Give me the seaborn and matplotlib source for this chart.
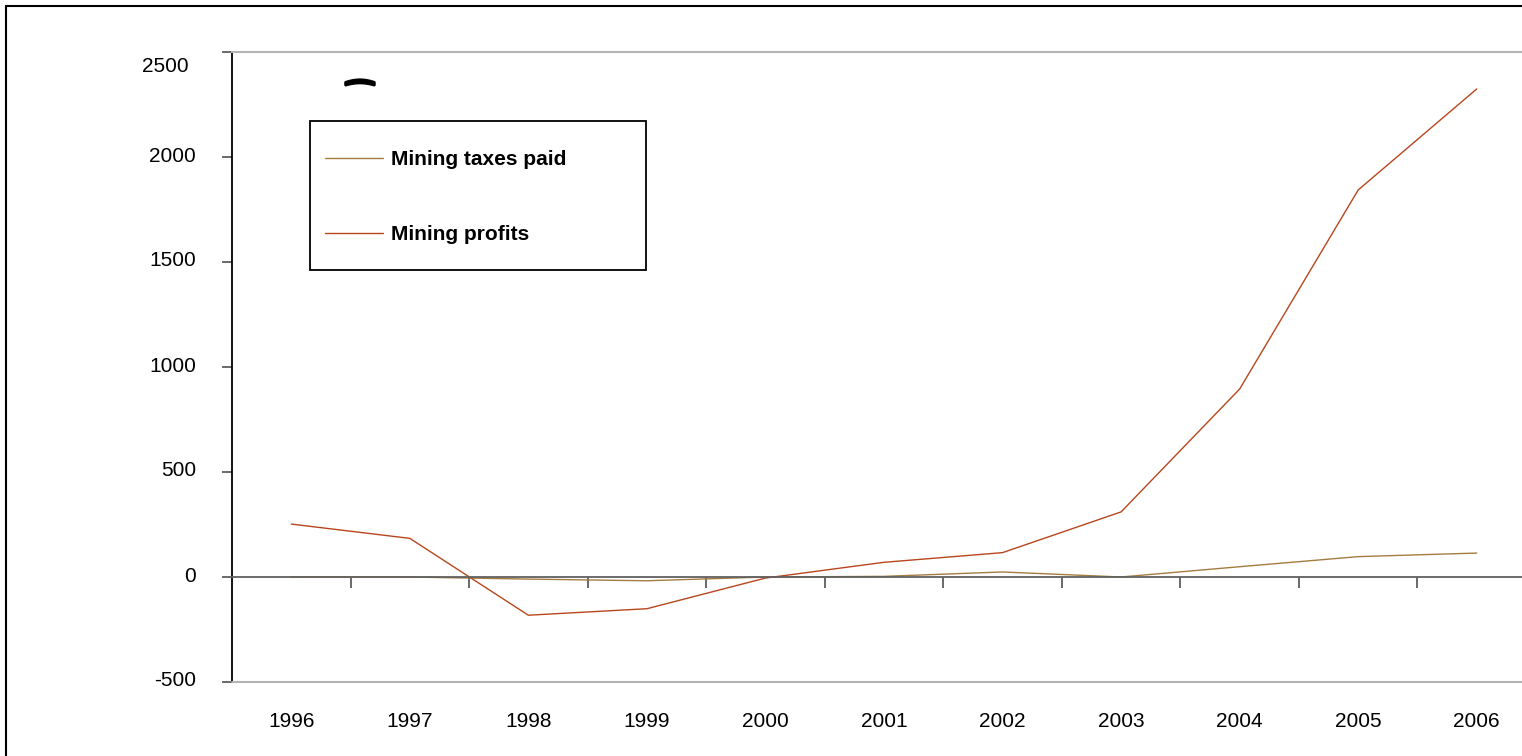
import pandas as pd
import matplotlib
matplotlib.use("Agg")
import matplotlib.pyplot as plt
import matplotlib.transforms as mtransforms
import matplotlib.patheffects as pe
from matplotlib.patches import Rectangle
from matplotlib.lines import Line2D
import seaborn as sns

# data
years = [1996, 1997, 1998, 1999, 2000, 2001, 2002, 2003, 2004, 2005, 2006]
mining_taxes = [0, 0, -10, -18, 0, 3, 24, 0, 49, 97, 114]
mining_profits = [252, 184, -182, -151, -5, 70, 116, 310, 895, 1843, 2324]
series_names = ["Mining taxes paid", "Mining profits"]
y_ticks = [-500, 0, 500, 1000, 1500, 2000, 2500]

df = pd.DataFrame({
    "year": years * 2,
    "value": mining_taxes + mining_profits,
    "series": [series_names[0]] * len(years) + [series_names[1]] * len(years),
})

sns.set_style("white")
plt.rcParams["font.family"] = ["Liberation Sans", "DejaVu Sans"]
plt.rcParams["axes.unicode_minus"] = False
plt.rcParams["text.color"] = "black"

W, H = 1522, 756
fig = plt.figure(figsize=(W / 100, H / 100), dpi=100)
ax = fig.add_axes([232 / W, 1 - 682 / H, (1536 - 232) / W, (682 - 52) / H])

palette = {"Mining taxes paid": "#a47c40", "Mining profits": "#b8461c"}
sns.lineplot(data=df, x="year", y="value", hue="series", hue_order=series_names,
             palette=palette, linewidth=1.0, ax=ax)

ax.set_xlim(1995.5, 2006.5)
ax.set_ylim(-500, 2500)
ax.set_xlabel("")
ax.set_ylabel("")

# x axis: spine sits at zero, ticks between categories, labels pushed to the bottom
ax.spines["bottom"].set_position(("data", 0))
ax.spines["bottom"].set_color("#606060")
ax.spines["bottom"].set_linewidth(1.3)
ax.set_xticks(years)
ax.set_xticklabels([str(y) for y in years], fontsize=15)
ax.set_xticks([y + 0.5 for y in years[:-1]], minor=True)
ax.tick_params(axis="x", which="major", length=0, pad=97.5, labelcolor="black")
ax.tick_params(axis="x", which="minor", direction="out", length=8, width=1.2,
               color="#505050", bottom=True)

# y axis
ax.set_yticks(y_ticks)
ax.set_yticklabels([str(v) for v in y_ticks], fontsize=15)
ax.tick_params(axis="y", direction="out", length=7, width=1.2, color="#505050",
               pad=19, left=True, labelcolor="black")
ax.spines["left"].set_color("black")
ax.spines["left"].set_linewidth(1.3)
ax.spines["top"].set_color("#b4b4b4")
ax.spines["top"].set_linewidth(1.5)
ax.spines["right"].set_visible(False)
ax.axhline(-500, color="#b4b4b4", linewidth=1.5, clip_on=False, zorder=3)

for lab in ax.get_yticklabels():
    dy = -13 if lab.get_text() == "2500" else 3
    dx = -7 if lab.get_text() == "2500" else 0
    off = mtransforms.ScaledTranslation(dx / 100, dy / 100, fig.dpi_scale_trans)
    lab.set_transform(lab.get_transform() + off)

# legend
leg = ax.legend(title=None, loc="upper left", frameon=False,
                bbox_to_anchor=(325 / W, 1 - 150 / H), bbox_transform=fig.transFigure,
                borderaxespad=0, borderpad=0, prop={"weight": "bold", "size": 15},
                handlelength=2.78, handletextpad=0.38, labelspacing=2.69)
for t in leg.get_texts():
    t.set_color("black")
fig.add_artist(Rectangle((310 / W, 1 - 270 / H), 336 / W, 149 / H,
                         transform=fig.transFigure, fill=False,
                         edgecolor="black", linewidth=1.3))

# stray arc glyph near the top left of the plot
fig.text(360 / W, 1 - 101 / H, "\u2040", fontsize=23, fontweight="bold",
         ha="center", va="center", family=["DejaVu Sans"],
         path_effects=[pe.withStroke(linewidth=2.2, foreground="black")])

# outer chart border (right and bottom run off the image)
fig.add_artist(Line2D([6 / W, 6 / W], [0, 1 - 6 / H], transform=fig.transFigure,
                      color="black", linewidth=1.5))
fig.add_artist(Line2D([6 / W, 1], [1 - 6 / H, 1 - 6 / H], transform=fig.transFigure,
                      color="black", linewidth=1.5))

fig.savefig("out.png", dpi=100)
